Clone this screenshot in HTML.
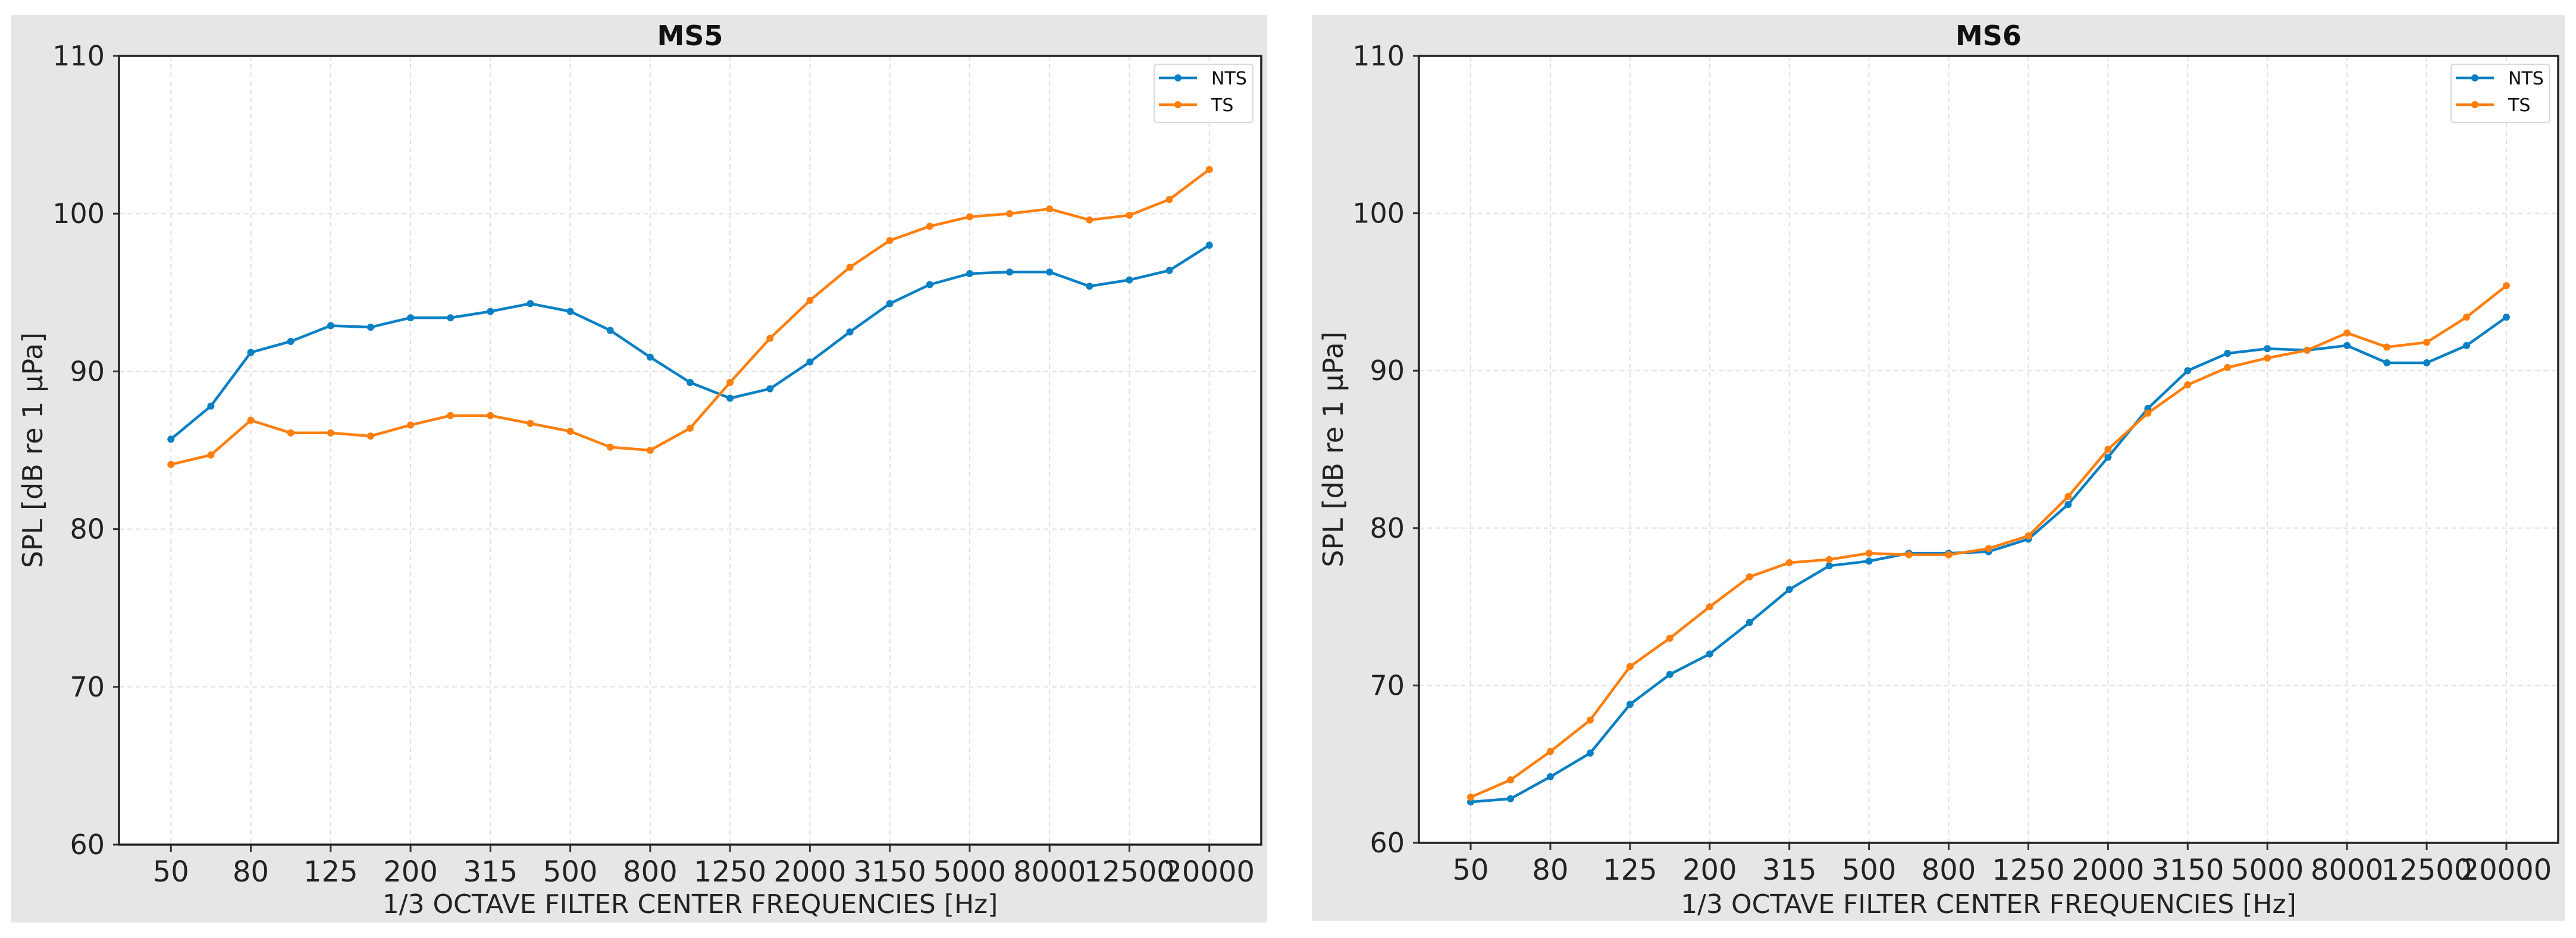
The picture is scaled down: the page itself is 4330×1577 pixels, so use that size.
<!DOCTYPE html>
<html><head><meta charset="utf-8">
<style>
html,body{margin:0;padding:0;background:#fff;}
svg{display:block;font-family:"DejaVu Sans","Liberation Sans",sans-serif;}
</style></head>
<body>
<svg id="chart" width="4330" height="1577" xmlns="http://www.w3.org/2000/svg"></svg>
<script>
const categories = ["50","63","80","100","125","160","200","250","315","400","500","630","800","1000","1250","1600","2000","2500","3150","4000","5000","6300","8000","10000","12500","16000","20000"];
const yTicks = [60,70,80,90,100,110];
const ms5NTS = [85.7,87.8,91.2,91.9,92.9,92.8,93.4,93.4,93.8,94.3,93.8,92.6,90.9,89.3,88.3,88.9,90.6,92.5,94.3,95.5,96.2,96.3,96.3,95.4,95.8,96.4,98.0];
const ms5TS = [84.1,84.7,86.9,86.1,86.1,85.9,86.6,87.2,87.2,86.7,86.2,85.2,85.0,86.4,89.3,92.1,94.5,96.6,98.3,99.2,99.8,100.0,100.3,99.6,99.9,100.9,102.8];
const ms6NTS = [62.6,62.8,64.2,65.7,68.8,70.7,72.0,74.0,76.1,77.6,77.9,78.4,78.4,78.5,79.3,81.5,84.5,87.6,90.0,91.1,91.4,91.3,91.6,90.5,90.5,91.6,93.4];
const ms6TS = [62.9,64.0,65.8,67.8,71.2,73.0,75.0,76.9,77.8,78.0,78.4,78.3,78.3,78.7,79.5,82.0,85.0,87.3,89.1,90.2,90.8,91.3,92.4,91.5,91.8,93.4,95.4];

const NS="http://www.w3.org/2000/svg";
const svg=document.getElementById('chart');
function mk(tag,attrs,parent,text){const e=document.createElementNS(NS,tag);for(const k in attrs)e.setAttribute(k,attrs[k]);if(text!==undefined)e.textContent=text;(parent||svg).appendChild(e);return e;}

function panel(cfg){
  const g=mk('g',{});
  
  
  const bg=mk('rect',{x:cfg.px,y:25,width:cfg.pw,height:cfg.ph,fill:'#e6e6e6'},g);
  
  
  const L=cfg.x0,R=cfg.x1,T=94,B=cfg.yb;
  mk('rect',{x:L,y:T,width:R-L,height:B-T,fill:'#fff'},g);
  const n=categories.length;
  const span=(n-1)*1.1;
  const xs=i=>L+(i+(n-1)*0.05)/span*(R-L);
  const ys=v=>B-(v-60)/50*(B-T);
  yTicks.forEach(v=>{
    const y=ys(v);
    const gl=mk('line',{x1:L,x2:R,y1:y,y2:y,stroke:'#e0e0e0','stroke-width':2,'stroke-dasharray':'8,6'},g);
    
    
    mk('line',{x1:L-10,x2:L,y1:y,y2:y,stroke:'#333','stroke-width':3},g);
    const t=mk('text',{x:L-24,y:y+16,'text-anchor':'end','font-size':46,fill:'#222'},g,String(v));
    
    
  });
  categories.forEach((c,i)=>{
    if(i%2)return;
    const x=xs(i);
    const gl=mk('line',{x1:x,x2:x,y1:T,y2:B,stroke:'#e0e0e0','stroke-width':2,'stroke-dasharray':'8,6'},g);
    
    
    mk('line',{x1:x,x2:x,y1:B,y2:B+12,stroke:'#333','stroke-width':3},g);
    const t=mk('text',{x:x,y:B+62,'text-anchor':'middle','font-size':48,fill:'#222'},g,c);
    
    
  });
  mk('rect',{x:L,y:T,width:R-L,height:B-T,fill:'none',stroke:'#222','stroke-width':3.5},g);
  [[cfg.nts,'#0a80c4','NTS'],[cfg.ts,'#ff7f0e','TS']].forEach(([data,col,nm])=>{
    const pts=data.map((v,i)=>xs(i).toFixed(1)+','+ys(v).toFixed(1)).join(' ');
    const pl=mk('polyline',{points:pts,fill:'none',stroke:col,'stroke-width':4.5,'stroke-linejoin':'round'},g);
    
    
    data.forEach((v,i)=>{
      const c=mk('circle',{cx:xs(i),cy:ys(v),r:6,fill:col},g);
      
      
    });
  });
  const tt=mk('text',{x:(L+R)/2,y:76,'text-anchor':'middle','font-size':46,'font-weight':'bold',fill:'#111'},g,cfg.title);
  
  
  const xl=mk('text',{x:(L+R)/2,y:1535,'text-anchor':'middle','font-size':44,fill:'#222'},g,'1/3 OCTAVE FILTER CENTER FREQUENCIES [Hz]');
  
  
  const yx=cfg.px+52, yy=(T+B)/2;
  const yl=mk('text',{x:yx,y:yy,'text-anchor':'middle','font-size':46,fill:'#222',transform:`rotate(-90 ${yx} ${yy})`},g,'SPL [dB re 1 µPa]');
  
  
  const lx=R-180, ly=108;
  const lg=mk('g',{},g);
  
  
  mk('rect',{x:lx,y:ly,width:166,height:98,rx:5,fill:'#fff',stroke:'#d8d8d8','stroke-width':2},lg);
  [['NTS','#0a80c4',131],['TS','#ff7f0e',176]].forEach(([nm,col,yy2])=>{
    const e=mk('g',{},lg);
    
    
    mk('line',{x1:lx+8,x2:lx+72,y1:yy2,y2:yy2,stroke:col,'stroke-width':4.5},e);
    mk('circle',{cx:lx+40,cy:yy2,r:6,fill:col},e);
    mk('text',{x:lx+96,y:yy2+11,'font-size':30,fill:'#111'},e,nm);
  });
}
panel({name:'ms5-panel',title:'MS5',px:19,pw:2111,ph:1526,x0:200,x1:2120,yb:1420,nts:ms5NTS,ts:ms5TS});
panel({name:'ms6-panel',title:'MS6',px:2205,pw:2106,ph:1523,x0:2385,x1:4300,yb:1417,nts:ms6NTS,ts:ms6TS});
</script>
</body></html>
